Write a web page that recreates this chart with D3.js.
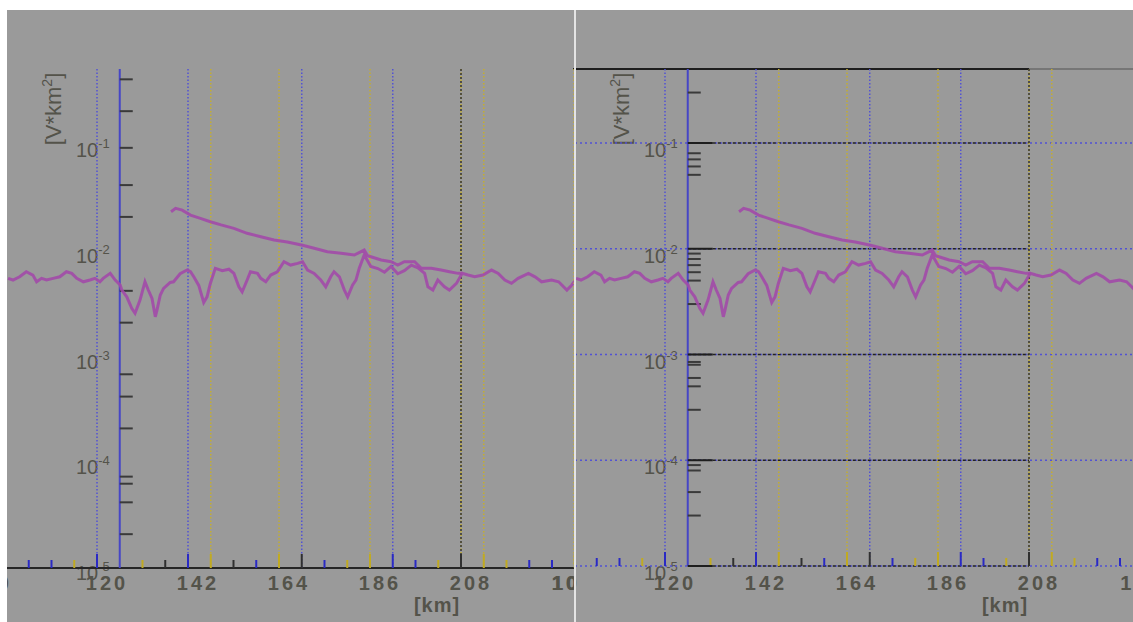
<!DOCTYPE html>
<html>
<head>
<meta charset="utf-8">
<script src="https://cdn.jsdelivr.net/npm/d3@7/dist/d3.min.js"></script>
<style>
  body { margin: 0; background: #fff; }
  svg { display: block; }
  text { font-family: 'Liberation Sans', Arial, sans-serif; }
</style>
</head>
<body>
<div id="chart"></div>
<script>
// -- DATA --

// noisy trace [km, V*km^2]
var seriesA = [
  [98.5,0.00525],[99.7,0.00506],[101.3,0.00543],[102.9,0.00606],[104.5,0.00564],[105.4,0.00487],
  [106.6,0.00525],[107.8,0.00506],[109.4,0.00525],[111.0,0.00543],[112.6,0.00606],[113.9,0.00585],
  [115.1,0.00525],[116.7,0.00487],[118.3,0.00506],[119.5,0.00525],[120.7,0.00487],[121.5,0.00525],
  [123.2,0.00585],[124.4,0.00506],[125.6,0.00454],[126.0,0.00407],[127.2,0.00351],[128.4,0.00273],
  [129.2,0.00245],[130.4,0.00327],[131.6,0.00487],[132.4,0.00407],[133.3,0.00339],[134.1,0.00227],
  [134.5,0.00263],[135.3,0.00365],[136.1,0.00422],[137.7,0.00480],[138.5,0.00487],[140.1,0.00580],
  [141.8,0.00630],[142.6,0.00606],[143.4,0.00543],[144.6,0.00450],[145.8,0.00310],[146.6,0.00351],
  [147.4,0.00470],[148.6,0.00653],[150.3,0.00620],[151.9,0.00640],[153.1,0.00585],[154.3,0.00437],
  [155.1,0.00392],[156.3,0.00506],[157.1,0.00606],[158.8,0.00585],[159.6,0.00525],[160.8,0.00487],
  [162.0,0.00564],[163.6,0.00606],[165.2,0.00753],[166.8,0.00701],[168.5,0.00727],[169.7,0.00753],
  [170.9,0.00629],[172.5,0.00585],[174.1,0.00506],[175.3,0.00437],[176.5,0.00543],[177.3,0.00606],
  [178.6,0.00543],[179.8,0.00407],[180.6,0.00351],[181.8,0.00454],[182.6,0.00506],[183.4,0.00653],
  [184.6,0.00872],[186.2,0.00680],[187.9,0.00650],[189.5,0.00600],[191.1,0.00680],[192.7,0.00580],
  [194.3,0.00620],[196.0,0.00700],[197.6,0.00660],[199.2,0.00585],[200.0,0.00437],[201.2,0.00407],
  [202.4,0.00506],[204.0,0.00437],[205.2,0.00407],[206.9,0.00470],[208.3,0.00585],[209.7,0.00564],
  [211.3,0.00543],[213.3,0.00564],[215.4,0.00629],[217.0,0.00585],[218.6,0.00506],[220.2,0.00471],
  [221.8,0.00525],[224.3,0.00585],[225.9,0.00543],[227.5,0.00487],[229.9,0.00506],[231.6,0.00487],
  [233.6,0.00407],[234.8,0.00454],[236.0,0.00525]
]

// decreasing trace [km, V*km^2]
var seriesB = [
  [137.9,0.0224],[139.0,0.0241],[140.6,0.0232],[142.6,0.0208],[145.0,0.0194],[147.4,0.0180],
  [150.0,0.0168],[153.1,0.0156],[156.3,0.0140],[159.6,0.0130],[162.8,0.0121],[166.0,0.0116],
  [169.7,0.0108],[172.5,0.0101],[175.7,0.00937],[179.0,0.00905],[182.2,0.00872],[184.6,0.00972],
  [185.4,0.00860],[186.2,0.00840],[188.7,0.00782],[191.1,0.00753],[192.7,0.00701],[194.3,0.00753],
  [196.8,0.00753],[198.4,0.00653],[200.8,0.00653],[203.2,0.00629],[205.2,0.00606],[207.3,0.00585],
  [208.3,0.00585]
]

var decades = [1e-1, 1e-2, 1e-3, 1e-4, 1e-5]
var decadeExp = ['-1', '-2', '-3', '-4', '-5']
var minorLeft = [0.4, 0.2, 0.09, 0.04, 0.02, 0.004, 0.002, 0.00065, 0.0004, 0.0002,
  0.00007, 0.00006, 0.00004, 0.00002]
var minorRight = [0.3, 0.08, 0.07, 0.06, 0.05, 0.009, 0.008, 0.007, 0.006, 0.005, 0.003,
  0.00085, 0.0008, 0.0006, 0.0005, 0.0003, 0.00009, 0.00008, 0.00005, 0.00003]

var axisKm = 125.5
var gridBlueKm = [120, 142, 169.5, 191.5]
var gridYellowKm = [98, 147.5, 164, 186, 208, 213.5, 235.5]
var gridBlackKm = [208]
var tickBlueKm = [103.5, 109, 120, 142, 158.5, 175, 191.5, 197, 224.5, 230]
var tickYellowKm = [114.5, 131, 147.5, 164, 180.5, 186, 202.5, 213.5, 219, 235.5]
var tickBlackKm = [136.5, 153, 169.5, 208]
var labelKm = [96, 120, 142, 164, 186, 208, 233.5]
var labelText = ['10', '120', '142', '164', '186', '208', '10']

// -- GLOBAL --

var width = 1133
var height = 622
var plotTop = 69
var textColor = '#54534a'
var blue = '#5252d4'
var yellow = '#c4ae2e'

var svg = d3.select('#chart').append('svg')
  .attr('width', width)
  .attr('height', height)

svg.append('rect')
  .attr('width', width)
  .attr('height', height)
  .style('fill', '#fff')

svg.append('defs').append('clipPath')
  .attr('id', 'clipLeft')
  .append('rect')
    .attr('x', 7)
    .attr('y', 10)
    .attr('width', 568)
    .attr('height', height - 10)

// -- FUNCTIONS --

function vline(g, x, y1, y2, color, width, dash) {
  g.append('line')
    .attr('x1', x).attr('x2', x)
    .attr('y1', y1).attr('y2', y2)
    .style('stroke', color)
    .style('stroke-width', width)
    .style('stroke-dasharray', dash || null)
}

function hline(g, y, x1, x2, color, width, dash) {
  g.append('line')
    .attr('x1', x1).attr('x2', x2)
    .attr('y1', y).attr('y2', y)
    .style('stroke', color)
    .style('stroke-width', width)
    .style('stroke-dasharray', dash || null)
}

function drawPanel(g, x0, shift, withGrid) {
  var xMap = d3.scaleLinear()
    .domain([120, 208])
    .range([97 + shift, 461 + shift])

  var yMap = d3.scaleLog()
    .domain([1e-5, 1e-1])
    .range([566, 143])

  var axisX = xMap(axisKm)
  var bottom = withGrid ? yMap(1e-5) : yMap(1e-5) + 2

  g.append('rect')
    .attr('x', x0)
    .attr('y', 10)
    .attr('width', width - x0)
    .attr('height', height - 10)
    .style('fill', '#9a9a9a')

  // y labels
  decades.forEach(function(v, i) {
    var t = g.append('text')
      .attr('x', axisX - 10)
      .attr('y', yMap(v) + 14)
      .style('text-anchor', 'end')
      .style('fill', textColor)
    t.append('tspan')
      .style('font-size', '20px')
      .text('10')
    t.append('tspan')
      .attr('dy', -9)
      .style('font-size', '13px')
      .text(decadeExp[i])
  })

  var title = g.append('text')
    .attr('transform', 'translate(' + (61 + shift) + ',109) rotate(-90)')
    .style('text-anchor', 'middle')
    .style('font-size', '22px')
    .style('fill', textColor)
  title.append('tspan').text('[V*km')
  title.append('tspan').attr('dy', -9).style('font-size', '14px').text('2')
  title.append('tspan').attr('dy', 9).text(']')

  // x labels
  labelKm.forEach(function(km, i) {
    g.append('text')
      .attr('x', xMap(km) + (labelText[i] == '10' ? 0 : 10))
      .attr('y', 590)
      .style('text-anchor', 'middle')
      .style('font-size', '20px')
      .style('font-weight', 'bold')
      .style('letter-spacing', '3px')
      .style('fill', textColor)
      .text(labelText[i])
  })

  g.append('text')
    .attr('x', 437 + shift)
    .attr('y', 612)
    .style('text-anchor', 'middle')
    .style('font-size', '20px')
    .style('font-weight', 'bold')
    .style('letter-spacing', '1px')
    .style('fill', textColor)
    .text('[km]')

  // horizontal grid (right panel only)
  if (withGrid) {
    decades.forEach(function(v) {
      hline(g, yMap(v), x0, width, blue, 1.5, '2,3')
      hline(g, yMap(v), axisX, xMap(208), '#222', 1.5, '3,2')
    })
    hline(g, plotTop, x0 - 2, xMap(208), '#1e1e1e', 2)
    hline(g, plotTop, xMap(208), width, '#6a6a6a', 1.5)
  } else {
    hline(g, bottom, x0, 575, '#262626', 2)
  }

  // vertical grid
  gridBlueKm.forEach(function(km) { vline(g, xMap(km), plotTop, bottom, blue, 1.5, '1.5,2') })
  gridYellowKm.forEach(function(km) { vline(g, xMap(km), plotTop, bottom, yellow, 1.5, '1.5,2') })
  gridBlackKm.forEach(function(km) { vline(g, xMap(km), plotTop, bottom, '#333', 1.5, '2,2') })

  // x ticks
  var tall = gridBlueKm.concat(gridYellowKm)
  function xticks(list, color) {
    list.forEach(function(km) {
      var h = tall.indexOf(km) >= 0 ? 14 : 8
      vline(g, xMap(km), bottom - h, bottom, color, 2)
    })
  }
  xticks(tickBlueKm, '#2a2ac4')
  xticks(tickYellowKm, '#c0aa22')
  xticks(tickBlackKm, '#303030')

  // y axis
  vline(g, axisX, plotTop, bottom, '#4646c6', 2)
  var minor = withGrid ? minorRight : minorLeft
  minor.forEach(function(v) { hline(g, yMap(v), axisX, axisX + 13, '#3a3a3a', 2) })
  if (withGrid) {
    decades.forEach(function(v) { hline(g, yMap(v), axisX, axisX + 25, '#1e1e1e', 2) })
  }

  // series
  var line = d3.line()
    .x(d => xMap(d[0]))
    .y(d => yMap(d[1]))

  ;[seriesA, seriesB].forEach(function(s) {
    g.append('path')
      .datum(s)
      .attr('d', line)
      .style('fill', 'none')
      .style('stroke', '#a24aa8')
      .style('stroke-width', 3)
      .style('stroke-opacity', 0.9)
  })
}

// -- MAIN --

var gLeft = svg.append('g').attr('clip-path', 'url(#clipLeft)')
drawPanel(gLeft, 7, 0, false)

var gRight = svg.append('g')
drawPanel(gRight, 575, 568, true)

vline(svg, 575, 10, height, '#e4e4e4', 2)
</script>
</body>
</html>
